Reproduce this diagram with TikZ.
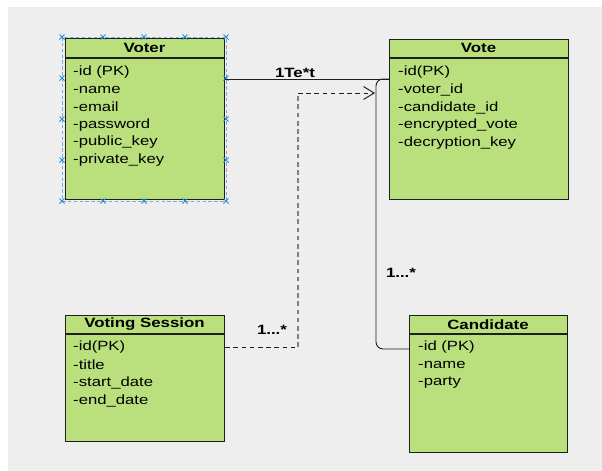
\documentclass[tikz,border=0pt]{standalone}
\usepackage{fontspec}
\setmainfont{Liberation Sans}[FakeStretch=1.25]
\usetikzlibrary{arrows.meta,calc}
\definecolor{FondoGris}{RGB}{238,238,238}
\definecolor{VerdeClase}{RGB}{185,224,125}
\definecolor{BordeClase}{RGB}{30,30,30}
\definecolor{AzulSel}{RGB}{120,170,220}
\definecolor{AzulMarca}{RGB}{40,140,210}

\tikzset{
  classbox/.style={draw=BordeClase,line width=1pt,fill=VerdeClase,anchor=north west,inner sep=0pt},
  classtitle/.style={font=\fontsize{11.5}{13}\selectfont\bfseries,inner sep=0pt},
  attr/.style={font=\fontsize{11.4}{13}\selectfont,anchor=west,inner sep=0pt},
  mult/.style={font=\fontsize{11.5}{13}\selectfont\bfseries,inner sep=0pt},
  assoc/.style={draw=BordeClase,line width=0.8pt},
  dep/.style={draw=BordeClase,line width=0.8pt,dash pattern=on 4pt off 3pt},
  selmark/.style={AzulMarca,line width=0.8pt}
}
\newcommand{\selcross}[1]{\draw[selmark] (#1) ++(-2.5,-2.5) -- ++(5,5) ++(-5,0) -- ++(5,-5);}

\begin{document}
\begin{tikzpicture}[x=0.03cm,y=-0.03cm]
  \useasboundingbox (0,0) rectangle (602,471);
  \fill[white] (0,0) rectangle (602,471);
  \fill[FondoGris] (8,7) rectangle (602,471);

  % clases
  \node[classbox,minimum width=4.77cm,minimum height=4.83cm] (voter) at (65,38) {};
  \node[classbox,minimum width=5.37cm,minimum height=4.8cm] (vote) at (389,39) {};
  \node[classbox,minimum width=4.77cm,minimum height=3.78cm] (session) at (65,315) {};
  \node[classbox,minimum width=4.74cm,minimum height=4.11cm] (cand) at (409,315) {};

  \draw[line width=1pt,BordeClase] (voter.north west) ++(0,20) -- ++(159,0);
  \draw[line width=1pt,BordeClase] (vote.north west) ++(0,19) -- ++(179,0);
  \draw[line width=1pt,BordeClase] (session.north west) ++(0,19) -- ++(159,0);
  \draw[line width=1pt,BordeClase] (cand.north west) ++(0,19) -- ++(158,0);

  \node[classtitle] (votertitle) at (144.5,48) {Voter};
  \node[classtitle] (votetitle) at (478.5,48) {Vote};
  \node[classtitle] (sessiontitle) at (144.5,324.5) {Voting Session};
  \node[classtitle] (candtitle) at (488,324.5) {Candidate};

  \foreach \t [count=\i from 0] in {-id (PK),-name,-email,-password,-public\_key,-private\_key}
    \node[attr] at (73,72+17.6*\i) {\t};
  \foreach \t [count=\i from 0] in {-id(PK),-voter\_id,-candidate\_id,-encrypted\_vote,-decryption\_key}
    \node[attr] at (398,72+17.8*\i) {\t};
  \foreach \t [count=\i from 0] in {-id(PK),-title,-start\_date,-end\_date}
    \node[attr] at (73,347+18*\i) {\t};
  \foreach \t [count=\i from 0] in {-id (PK),-name,-party}
    \node[attr] at (418,347+18*\i) {\t};

  % seleccion de Voter
  \draw[AzulSel,line width=0.6pt,dash pattern=on 3pt off 2pt] (62,37) rectangle (226,201);
  \foreach \x in {62,103,144,185,226} {\selcross{\x,37} \selcross{\x,201}}
  \foreach \y in {78,119,160} {\selcross{62,\y} \selcross{226,\y}}

  % relaciones
  \draw[assoc] ($(voter.north east)+(0,41)$) -- ($(vote.north west)+(0,40)$);
  \node[mult] (m1) at (295,73) {1Te*t};
  \draw[assoc,rounded corners=6pt] ($(cand.north west)+(0,34)$) -- ++(-33,0) |- ($(vote.north west)+(0,40)$);
  \node[mult] (m2) at (401,273) {1...*};

  \coordinate (bendA) at (298,347);
  \coordinate (bendB) at (298,93);
  \coordinate (tipV) at (375,93);
  \draw[dep] ($(session.north east)+(0,32)$) -- (bendA);
  \draw[dep,gray,line width=1.6pt] (bendA) -- (bendB);
  \draw[dep,-{Straight Barb[length=9pt,width=11pt,line width=0.8pt]}] (bendB) -- (tipV);
  \node[mult] (m3) at (272,330) {1...*};
\end{tikzpicture}
\end{document}
